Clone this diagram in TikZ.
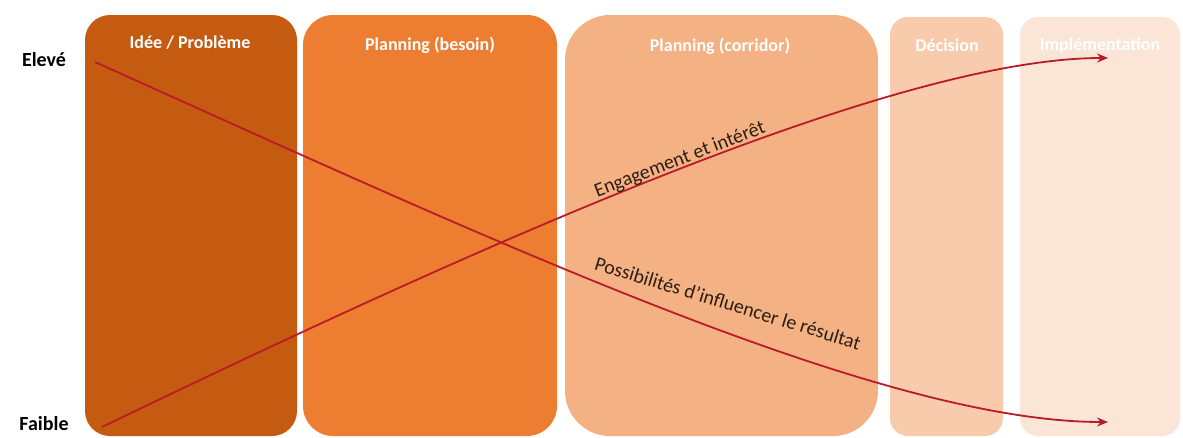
\documentclass[tikz,border=0pt]{standalone}
\usepackage{fontspec}
\setmainfont{Carlito}
\usetikzlibrary{arrows.meta}
\definecolor{cA}{HTML}{C55A11}
\definecolor{cB}{HTML}{ED7D31}
\definecolor{cC}{HTML}{F4B183}
\definecolor{cD}{HTML}{F8CBAD}
\definecolor{cE}{HTML}{FBE5D6}
\definecolor{lineRed}{RGB}{185,28,40}
\definecolor{txtDark}{RGB}{45,30,20}
\tikzset{
  phase/.style={fill=#1, draw=none},
  phaselabel/.style={text=white, font=\fontsize{18}{20}\selectfont\bfseries, inner sep=0pt},
  level/.style={text=black, font=\fontsize{20}{22}\selectfont\bfseries, inner sep=0pt},
  trend/.style={draw=lineRed, line width=1.8pt, -{Stealth[length=11pt,width=9pt]}},
  trendlabel/.style={text=txtDark, font=\fontsize{20}{22}\selectfont, inner sep=0pt}
}
\begin{document}
\begin{tikzpicture}[x=1pt,y=-1pt]
\useasboundingbox (0,0) rectangle (1183,437);
\fill[white] (0,0) rectangle (1183,437);
% phase boxes
\fill[phase=cA, rounded corners=25pt] (85,15) rectangle (297,436);
\fill[phase=cB, rounded corners=30pt] (303,15) rectangle (557,436);
\fill[phase=cC, rounded corners=45pt] (565,15) rectangle (878,436);
\fill[phase=cD, rounded corners=18pt] (890,17) rectangle (1003,436);
\fill[phase=cE, rounded corners=18pt] (1020,17) rectangle (1180,436);
% phase labels
\node[phaselabel] (l1) at (190,43) {Idée / Problème};
\node[phaselabel] (l2) at (430,45) {Planning (besoin)};
\node[phaselabel] (l3) at (720,46) {Planning (corridor)};
\node[phaselabel] (l4) at (947,45) {Décision};
\node[phaselabel] (l5) at (1100,46) {Implémentation};
% level labels
\node[level] (hi) at (44,60) {Elevé};
\node[level] (lo) at (44,424) {Faible};
% trend curves
\coordinate (p1s) at (95,62);
\coordinate (p1e) at (1108,422);
\coordinate (p2s) at (102,427);
\coordinate (p2e) at (1108,58);
\draw[trend] (p1s) .. controls (495,242) and (880,422) .. (p1e);
\draw[trend] (p2s) .. controls (500,235) and (900,58) .. (p2e);
% curve labels
\node[trendlabel, rotate=-17] (t1) at (728,303) {Possibilités d'influencer le résultat};
\node[trendlabel, rotate=21] (t2) at (680,160) {Engagement et intérêt};
\end{tikzpicture}
\end{document}
